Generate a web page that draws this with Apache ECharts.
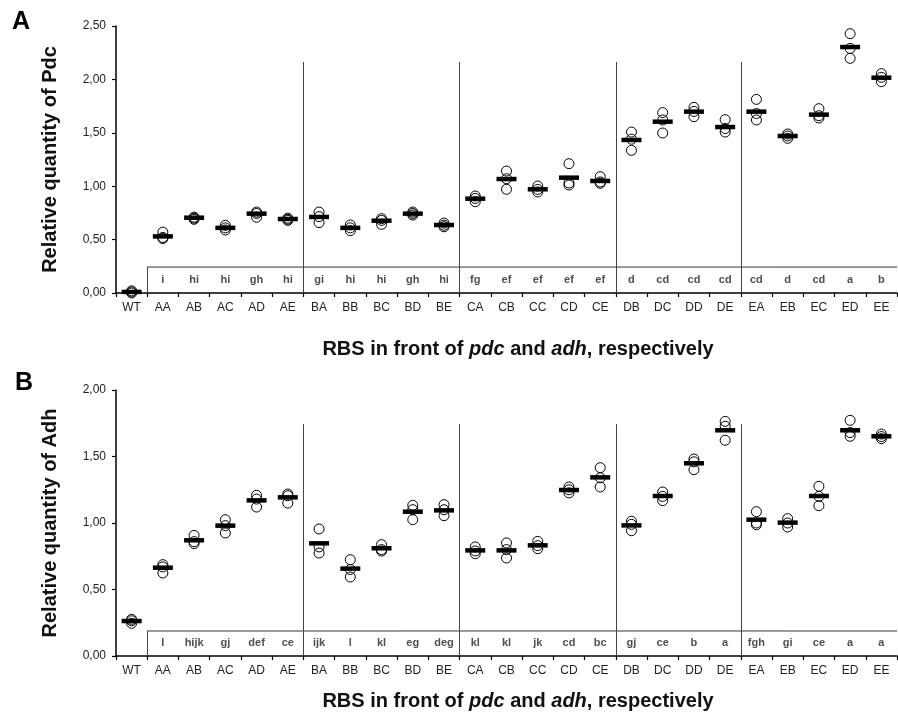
<!DOCTYPE html>
<html><head><meta charset="utf-8">
<script src="https://cdn.jsdelivr.net/npm/echarts@6/dist/echarts.min.js"></script>
<style>html,body{margin:0;padding:0;background:#fff}#c{width:898px;height:717px}</style>
</head><body><div id="c"></div>
<script>
const categories = ['WT','AA','AB','AC','AD','AE','BA','BB','BC','BD','BE','CA','CB','CC','CD','CE','DB','DC','DD','DE','EA','EB','EC','ED','EE'];

const pdcMean = [0.01,0.53,0.705,0.61,0.743,0.693,0.712,0.61,0.677,0.743,0.637,0.883,1.067,0.971,1.08,1.049,1.433,1.604,1.698,1.554,1.698,1.47,1.67,2.303,2.016];
const pdcRep1 = [0.02,0.57,0.70,0.634,0.758,0.70,0.758,0.637,0.696,0.758,0.655,0.908,1.142,1.002,1.211,1.089,1.507,1.689,1.738,1.623,1.813,1.489,1.726,2.428,2.054];
const pdcRep2 = [0.00,0.51,0.69,0.59,0.709,0.68,0.659,0.584,0.643,0.73,0.62,0.855,0.971,0.946,1.011,1.027,1.336,1.498,1.651,1.507,1.62,1.448,1.639,2.197,1.979];
const pdcRep3 = [0.01,0.52,0.71,0.61,0.745,0.69,0.715,0.61,0.68,0.745,0.635,0.885,1.07,0.97,1.03,1.04,1.44,1.62,1.70,1.54,1.68,1.47,1.66,2.29,2.02];
const pdcLetters = ['','i','hi','hi','gh','hi','gi','hi','hi','gh','hi','fg','ef','ef','ef','ef','d','cd','cd','cd','cd','d','cd','a','b'];

const adhMean = [0.263,0.664,0.87,0.98,1.17,1.193,0.847,0.657,0.81,1.085,1.095,0.794,0.794,0.832,1.248,1.343,0.982,1.203,1.449,1.697,1.025,1.003,1.203,1.697,1.652];
const adhRep1 = [0.276,0.687,0.907,1.025,1.208,1.218,0.955,0.724,0.837,1.133,1.138,0.82,0.85,0.862,1.271,1.416,1.013,1.233,1.481,1.764,1.085,1.033,1.276,1.772,1.669];
const adhRep2 = [0.246,0.624,0.845,0.925,1.12,1.15,0.774,0.594,0.789,1.025,1.055,0.769,0.737,0.807,1.226,1.271,0.942,1.168,1.401,1.622,0.987,0.97,1.13,1.652,1.634];
const adhRep3 = [0.265,0.67,0.86,0.98,1.18,1.205,0.82,0.65,0.80,1.10,1.10,0.79,0.80,0.83,1.25,1.34,0.99,1.20,1.46,1.727,1.00,1.00,1.20,1.68,1.65];
const adhLetters = ['','l','hijk','gj','def','ce','ijk','l','kl','eg','deg','kl','kl','jk','cd','bc','gj','ce','b','a','fgh','gi','ce','a','a'];

const yTicksA = {min:0, max:2.5, interval:0.5};
const yTicksB = {min:0, max:2.0, interval:0.5};
const separators = [6, 11, 16, 20];
const boxStart = 1;
const panels = [
  {mean:pdcMean, reps:[pdcRep1,pdcRep2,pdcRep3], letters:pdcLetters, yTicks:yTicksA, yName:'Relative quantity of Pdc', letterY:0.122, boxTop:0.243, sepTop:2.163},
  {mean:adhMean, reps:[adhRep1,adhRep2,adhRep3], letters:adhLetters, yTicks:yTicksB, yName:'Relative quantity of Adh', letterY:0.098, boxTop:0.188, sepTop:1.744}
];

const FONT = "'Liberation Sans', Arial, Helvetica, sans-serif";
const chart = echarts.init(document.getElementById('c'), null, {renderer:'canvas'});

const grids = [
  {left:116, top:26, width:781, height:267},
  {left:116, top:390, width:781, height:266}
];
const xAxes = [], yAxes = [], series = [];
panels.forEach((p, gi) => {
  xAxes.push({
    type:'category', gridIndex:gi, data:categories, boundaryGap:true,
    axisLine:{lineStyle:{color:'#000', width:1.5}},
    axisTick:{show:true, interval:0, length:4, lineStyle:{color:'#000', width:1.2}},
    axisLabel:{interval:0, margin:9, fontFamily:FONT, fontSize:12, color:'#222'},
    splitLine:{show:false}
  });
  xAxes.push({type:'value', gridIndex:gi, min:0, max:categories.length, show:false});
  yAxes.push({
    type:'value', gridIndex:gi, min:p.yTicks.min, max:p.yTicks.max, interval:p.yTicks.interval,
    name:p.yName, nameLocation:'middle', nameGap:56,
    nameTextStyle:{fontFamily:FONT, fontSize:20, fontWeight:'bold', color:'#111'},
    axisLine:{show:true, lineStyle:{color:'#000', width:1.5}},
    axisTick:{show:true, length:4, lineStyle:{color:'#000', width:1.2}},
    axisLabel:{margin:10, fontFamily:FONT, fontSize:12, color:'#222',
      formatter:v => v.toFixed(2).replace('.', ',')},
    splitLine:{show:false}
  });
  const xCat = gi*2, xVal = gi*2+1;
  const sepLines = separators.map(s => [{coord:[s, 0]}, {coord:[s, p.sepTop]}]);
  sepLines.push([{coord:[boxStart, 0]}, {coord:[boxStart, p.boxTop]}]);
  series.push({
    type:'line', xAxisIndex:xVal, yAxisIndex:gi, symbol:'none', silent:true,
    data:[[boxStart, p.boxTop],[categories.length, p.boxTop]],
    lineStyle:{color:'#333', width:1},
    markLine:{silent:true, symbol:['none','none'], label:{show:false},
      lineStyle:{color:'#444', width:1, type:'solid'}, data:sepLines},
    z:1
  });
  p.reps.forEach(r => {
    series.push({
      type:'scatter', xAxisIndex:xCat, yAxisIndex:gi, symbol:'circle', symbolSize:10,
      itemStyle:{color:'rgba(255,255,255,0)', borderColor:'#000', borderWidth:1, opacity:1},
      data:r.map((v,i)=>[categories[i], v]), z:2
    });
  });
  series.push({
    type:'scatter', xAxisIndex:xCat, yAxisIndex:gi, symbol:'rect', symbolSize:[20,4.5],
    itemStyle:{color:'#000', opacity:1},
    data:p.mean.map((v,i)=>[categories[i], v]), z:3
  });
  series.push({
    type:'scatter', xAxisIndex:xCat, yAxisIndex:gi, symbolSize:0, silent:true,
    data:p.letters.map((l,i)=>({value:[categories[i], p.letterY], name:l})),
    label:{show:true, position:'inside', formatter:d => d.name,
      fontFamily:FONT, fontSize:11, fontWeight:'bold', color:'#222'},
    z:4
  });
});

const titleRich = {
  n:{fontFamily:FONT, fontSize:20, fontWeight:'bold', fill:'#111'},
  i:{fontFamily:FONT, fontSize:20, fontWeight:'bold', fontStyle:'italic', fill:'#111'}
};
const xTitle = '{n|RBS in front of }{i|pdc}{n| and }{i|adh}{n|, respectively}';

chart.setOption({
  animation:false,
  grid:grids,
  xAxis:xAxes,
  yAxis:yAxes,
  series:series,
  graphic:[
    {type:'text', x:518, y:349, style:{text:xTitle, rich:titleRich, align:'center', verticalAlign:'middle'}},
    {type:'text', x:518, y:701, style:{text:xTitle, rich:titleRich, align:'center', verticalAlign:'middle'}},
    {type:'text', x:12, y:22, style:{text:'A', font:"bold 25px "+FONT, fill:'#000', verticalAlign:'middle'}},
    {type:'text', x:15, y:383, style:{text:'B', font:"bold 25px "+FONT, fill:'#000', verticalAlign:'middle'}}
  ]
});
</script></body></html>
